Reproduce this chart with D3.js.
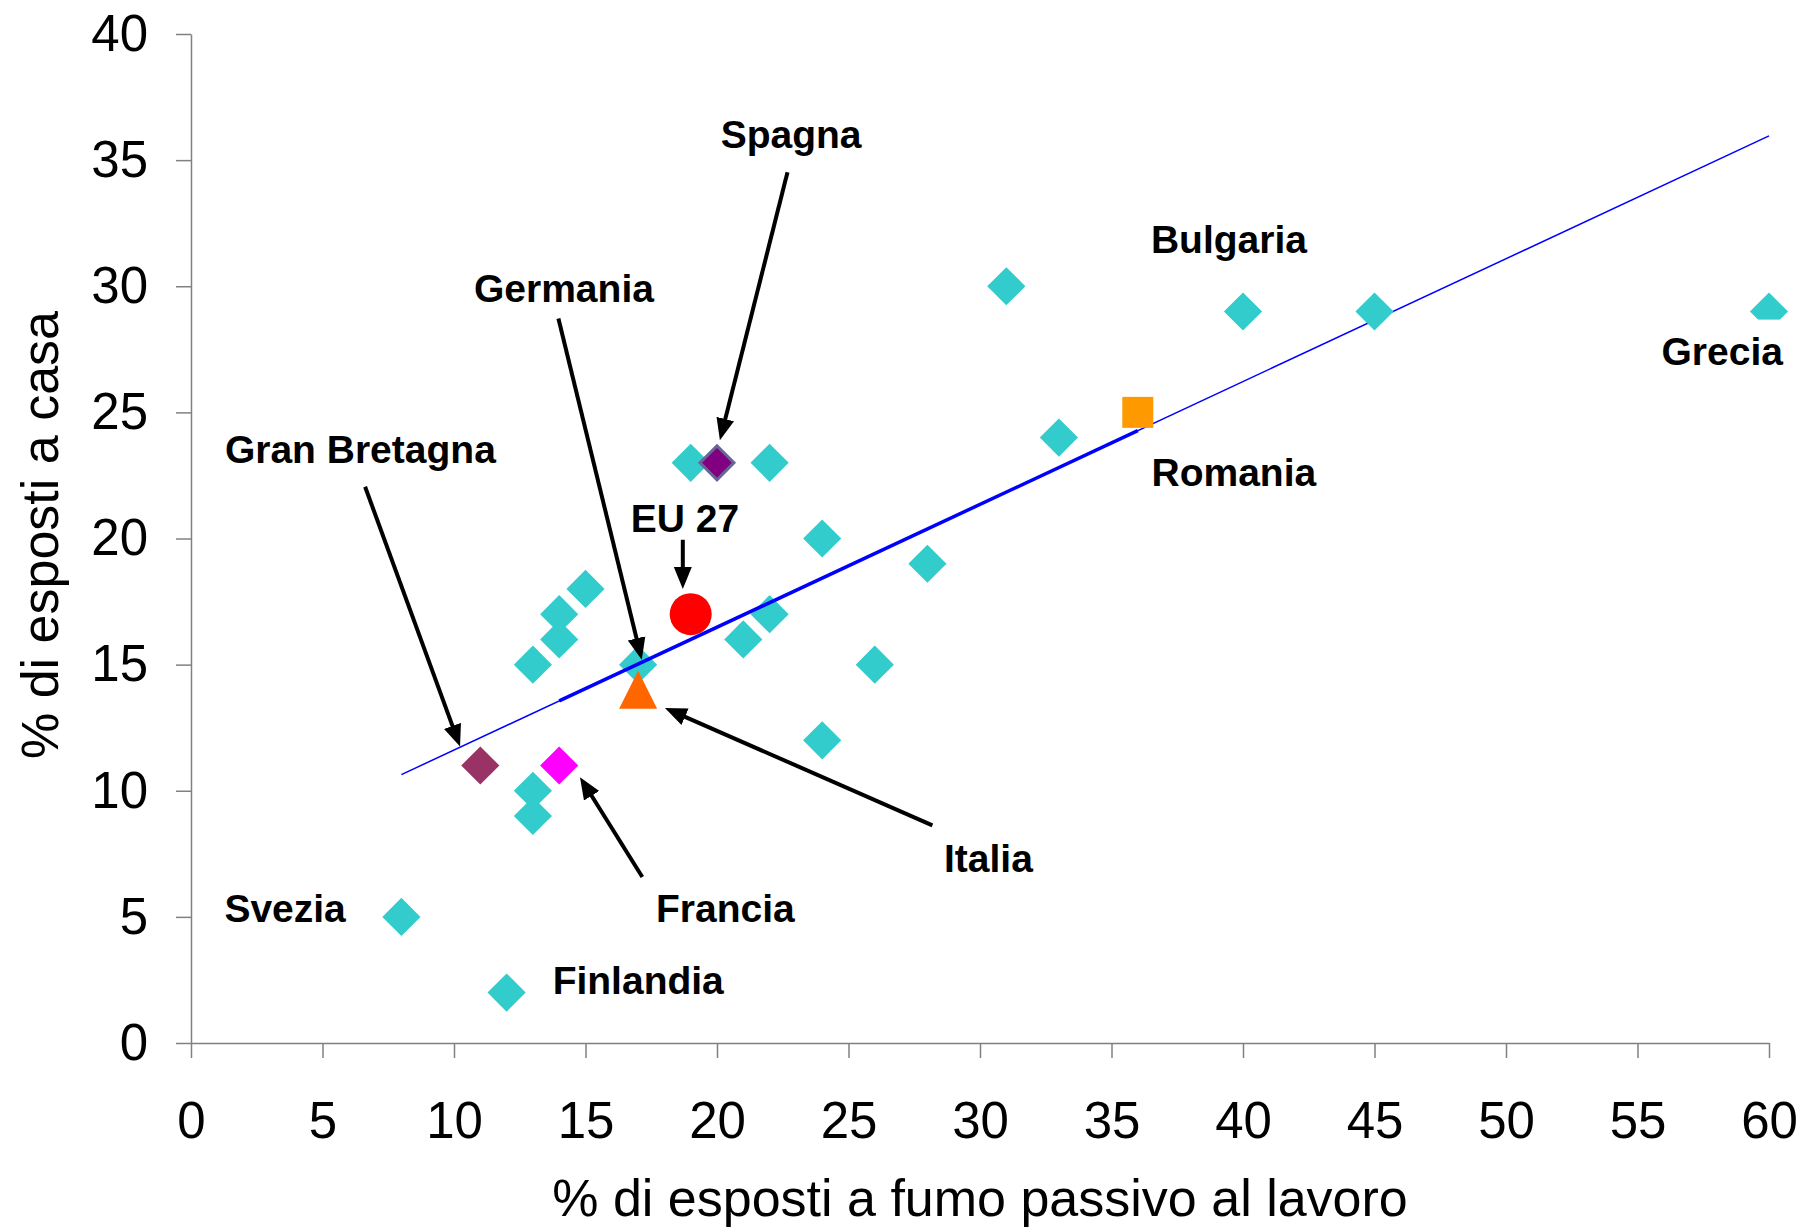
<!DOCTYPE html>
<html>
<head>
<meta charset="utf-8">
<script src="https://cdn.jsdelivr.net/npm/d3@7"></script>
<style>
  body { margin: 0; background: #fff; }
  text { font-family: "Liberation Sans", Arial, sans-serif; fill: #000; }
</style>
</head>
<body>
<div id="chart"></div>
<script>
// % esposti al lavoro (x) / a casa (y) - paesi senza etichetta speciale
const workPct = [8, 12, 13, 13, 13, 14, 14, 15, 17, 19, 22, 24, 21, 22, 24, 26, 28, 31, 33, 40, 45, 60];
const homePct = [5, 2, 10, 9, 15, 17, 16, 18, 15, 23, 23, 20, 16, 17, 12, 15, 19, 30, 24, 29, 29, 29];

// paesi evidenziati
const highlightNames = ["Gran Bretagna", "Francia", "Spagna", "EU 27", "Italia", "Romania"];
const highlightWork = [11, 14, 20, 19, 17, 36];
const highlightHome = [11, 11, 23, 17, 14, 25];

// retta di tendenza (estremi)
const trendX = [8, 60];
const trendY = [10.64, 35.96];
const trendBoldX = [14, 36];

// tick
const xTicks = [0, 5, 10, 15, 20, 25, 30, 35, 40, 45, 50, 55, 60];
const yTicks = [0, 5, 10, 15, 20, 25, 30, 35, 40];

// etichette (coordinate in unità dei dati)
const labelText = ["Spagna", "Bulgaria", "Grecia", "Romania", "Germania", "Gran Bretagna", "EU 27", "Italia", "Francia", "Svezia", "Finlandia"];
const labelX = [20.14, 36.5, 60.53, 36.52, 10.76, 1.29, 16.72, 28.63, 17.68, 1.27, 13.75];
const labelY = [36.05, 31.87, 27.45, 22.65, 29.95, 23.56, 20.81, 7.35, 5.36, 5.36, 2.51];

// frecce: partenza -> punta
const arrowFromX = [22.68, 13.97, 6.62, 18.70, 28.19, 17.16];
const arrowFromY = [34.52, 28.72, 22.05, 19.95, 8.63, 6.58];
const arrowToX = [20.11, 17.14, 10.23, 18.70, 18.02, 14.79];
const arrowToY = [23.89, 15.19, 11.75, 18.0, 13.28, 10.54];

function trendAt(x) {
    const slope = (trendY[1] - trendY[0]) / (trendX[1] - trendX[0]);
    return trendY[0] + slope * (x - trendX[0]);
}

function buildChart() {
    const width = 1805;
    const height = 1229;

    const svg = d3.select("#chart")
        .append("svg")
        .attr("width", width)
        .attr("height", height);

    svg.append("rect").attr("width", width).attr("height", height).attr("fill", "#fff");

    const xScale = d3.scaleLinear().domain([0, 60]).range([191, 1769]);
    const yScale = d3.scaleLinear().domain([0, 40]).range([1043, 34]);

    // X axis
    const xAxis = svg.append("g")
        .attr("transform", `translate(0,${yScale(0)})`)
        .call(d3.axisBottom(xScale).tickValues(xTicks).tickSize(15).tickSizeOuter(0).tickPadding(44));

    // Y axis
    const yAxis = svg.append("g")
        .attr("transform", `translate(${xScale(0)},0)`)
        .call(d3.axisLeft(yScale).tickValues(yTicks).tickSize(15).tickSizeOuter(0).tickPadding(28));

    for (const ax of [xAxis, yAxis]) {
        ax.select(".domain").attr("stroke", "#808080").attr("stroke-width", 1.5);
        ax.selectAll(".tick line").attr("stroke", "#808080").attr("stroke-width", 1.5);
        ax.selectAll(".tick text")
            .attr("font-family", "Liberation Sans, Arial, sans-serif")
            .attr("font-size", 51)
            .attr("fill", "#000");
    }

    // trend line (thin, full range)
    svg.append("line")
        .attr("x1", xScale(trendX[0])).attr("y1", yScale(trendY[0]))
        .attr("x2", xScale(trendX[1])).attr("y2", yScale(trendY[1]))
        .attr("stroke", "#0000ff").attr("stroke-width", 1.5);

    const diamond = d3.symbol(d3.symbolSquare, 27 * 27);

    // cyan diamonds
    svg.selectAll(".pt")
        .data(workPct.map((w, i) => ({ x: w, y: homePct[i] })))
        .enter()
        .append("path")
        .attr("class", "pt")
        .attr("d", diamond)
        .attr("transform", d => `translate(${xScale(d.x)},${yScale(d.y)}) rotate(45)`)
        .attr("fill", "#33cccc");

    // trend line (thick middle part)
    svg.append("line")
        .attr("x1", xScale(trendBoldX[0])).attr("y1", yScale(trendAt(trendBoldX[0])))
        .attr("x2", xScale(trendBoldX[1])).attr("y2", yScale(trendAt(trendBoldX[1])))
        .attr("stroke", "#0000ff").attr("stroke-width", 3.5);

    // highlighted markers
    const hl = highlightNames.map((n, i) => ({ name: n, x: highlightWork[i], y: highlightHome[i] }));
    const style = {
        "Gran Bretagna": { shape: "diamond", fill: "#993366" },
        "Francia": { shape: "diamond", fill: "#ff00ff" },
        "Spagna": { shape: "diamond", fill: "#800080", stroke: "#666699" },
        "EU 27": { shape: "circle", fill: "#ff0000" },
        "Italia": { shape: "triangle", fill: "#ff6600" },
        "Romania": { shape: "square", fill: "#ff9900" }
    };
    const triangle = "M0,-19L19,19L-19,19Z";

    svg.selectAll(".hl")
        .data(hl)
        .enter()
        .append("path")
        .attr("class", "hl")
        .attr("d", d => {
            const s = style[d.name].shape;
            if (s === "diamond") return style[d.name].stroke ? d3.symbol(d3.symbolSquare, 24 * 24)() : diamond();
            if (s === "circle") return d3.symbol(d3.symbolCircle, Math.PI * 21 * 21)();
            if (s === "square") return d3.symbol(d3.symbolSquare, 31 * 31)();
            return triangle;
        })
        .attr("transform", d => {
            const rot = style[d.name].shape === "diamond" ? " rotate(45)" : "";
            return `translate(${xScale(d.x)},${yScale(d.y)})${rot}`;
        })
        .attr("fill", d => style[d.name].fill)
        .attr("stroke", d => style[d.name].stroke || "none")
        .attr("stroke-width", 3);

    // arrows
    svg.append("defs").append("marker")
        .attr("id", "head")
        .attr("viewBox", "0 -10 22 20")
        .attr("refX", 10)
        .attr("refY", 0)
        .attr("markerWidth", 22)
        .attr("markerHeight", 20)
        .attr("markerUnits", "userSpaceOnUse")
        .attr("orient", "auto")
        .append("path")
        .attr("d", "M0,-9L22,0L0,9Z")
        .attr("fill", "#000");

    svg.selectAll(".arrow")
        .data(arrowFromX.map((fx, i) => ({
            x1: xScale(fx), y1: yScale(arrowFromY[i]),
            x2: xScale(arrowToX[i]), y2: yScale(arrowToY[i])
        })))
        .enter()
        .append("line")
        .attr("class", "arrow")
        .attr("x1", d => d.x1)
        .attr("y1", d => d.y1)
        .attr("x2", d => {
            const len = Math.hypot(d.x2 - d.x1, d.y2 - d.y1);
            return d.x2 - (d.x2 - d.x1) / len * 12;
        })
        .attr("y2", d => {
            const len = Math.hypot(d.x2 - d.x1, d.y2 - d.y1);
            return d.y2 - (d.y2 - d.y1) / len * 12;
        })
        .attr("stroke", "#000")
        .attr("stroke-width", 4)
        .attr("marker-end", "url(#head)");

    // labels
    const labels = svg.selectAll(".lbl")
        .data(labelText.map((t, i) => ({ t, x: labelX[i], y: labelY[i] })))
        .enter()
        .append("g")
        .attr("class", "lbl");

    labels.append("text")
        .attr("x", d => xScale(d.x))
        .attr("y", d => yScale(d.y))
        .attr("dy", "0.36em")
        .attr("text-anchor", d => d.t === "Grecia" ? "end" : "start")
        .attr("font-size", 39)
        .attr("font-weight", "bold")
        .text(d => d.t);

    // white box behind "Grecia" (hides lower part of its marker, like the original)
    labels.filter(d => d.t === "Grecia").each(function () {
        const g = d3.select(this);
        const bb = g.select("text").node().getBBox();
        g.insert("rect", "text")
            .attr("x", bb.x - 6).attr("y", bb.y - 10)
            .attr("width", bb.width + 12).attr("height", bb.height + 14)
            .attr("fill", "#fff");
    });

    // axis titles
    svg.append("text")
        .attr("x", 980)
        .attr("y", 1216)
        .attr("text-anchor", "middle")
        .attr("font-size", 52)
        .text("% di esposti a fumo passivo al lavoro");

    svg.append("text")
        .attr("transform", "rotate(-90)")
        .attr("x", -535)
        .attr("y", 58)
        .attr("text-anchor", "middle")
        .attr("font-size", 52)
        .text("% di esposti a casa");
}

buildChart();
</script>
</body>
</html>
